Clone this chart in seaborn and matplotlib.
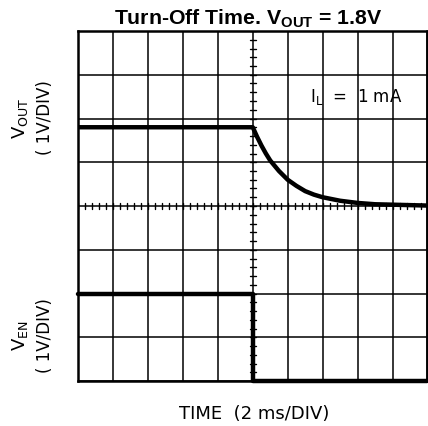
import numpy as np
import pandas as pd
import seaborn as sns
import matplotlib
matplotlib.use("Agg")
import matplotlib.pyplot as plt

# time in ms (2 ms/div, 10 divisions, t = 0 at centre)
vout_time = [-10, 0, 0.25, 0.5, 0.75, 1.0, 1.5, 2.0, 2.5, 3.0, 3.5, 4.0, 5.0, 6.0, 7.0, 8.0, 10.0]
vout_volts = [1.8, 1.8, 1.58, 1.38, 1.20, 1.04, 0.80, 0.60, 0.46, 0.34, 0.26, 0.20,
              0.12, 0.07, 0.04, 0.03, 0.01]
ven_time = [-10, 0, 0, 10]
ven_volts = [2.0, 2.0, 0.0, 0.0]

vout_ref = 4   # division where V_OUT = 0 V
ven_ref = 0    # division where V_EN = 0 V

sns.set_style("white")
plt.rcParams['font.family'] = ['DejaVu Sans']
plt.rcParams['text.color'] = 'black'
plt.rcParams['mathtext.fontset'] = 'custom'
plt.rcParams['mathtext.rm'] = 'DejaVu Sans'
plt.rcParams['mathtext.bf'] = 'Liberation Sans:bold'

fig = plt.figure(figsize=(4.28, 4.26), dpi=100)
ax = fig.add_axes([78 / 428, 45 / 426, 349.5 / 428, 350 / 426])

# grid
for x in range(-10, 11, 2):
    ax.axvline(x, color='black', lw=1.1, zorder=1)
for y in range(0, 9):
    ax.axhline(y, color='black', lw=1.1, zorder=1)

# minor ticks on centre crosshair
for x in np.arange(-10, 10.01, 0.4):
    ax.plot([x, x], [vout_ref - 0.07, vout_ref + 0.07], color='black', lw=1.0, zorder=2)
for y in np.arange(0, 8.01, 0.2):
    ax.plot([-0.17, 0.17], [y, y], color='black', lw=1.0, zorder=2)

df_out = pd.DataFrame({"t": vout_time, "v": np.array(vout_volts) + vout_ref})
df_en = pd.DataFrame({"t": ven_time, "v": np.array(ven_volts) + ven_ref})
sns.lineplot(data=df_out, x="t", y="v", sort=False, estimator=None, color='black',
             lw=3.2, ax=ax, zorder=3)
sns.lineplot(data=df_en, x="t", y="v", sort=False, estimator=None, color='black',
             lw=3.2, ax=ax, zorder=3, clip_on=False)

ax.set_xlim(-10, 10)
ax.set_ylim(0, 8)
ax.set_xticks([])
ax.set_yticks([])
ax.set_xlabel("")
ax.set_ylabel("")
for s in ax.spines.values():
    s.set_linewidth(1.8)
    s.set_color('black')

fig.text(248 / 428, 1 - 24 / 426, r"Turn-Off Time. V$_\mathbf{OUT}$ = 1.8V",
         family='Liberation Sans', ha='center', va='baseline', fontsize=15.3, fontweight='bold')
ax.text(5.94, 6.49, r"I$_\mathrm{L}$  =  1 mA", ha='center', va='center', fontsize=12)
fig.text(254 / 428, 1 - 414 / 426, "TIME  (2 ms/DIV)", ha='center', va='center', fontsize=13)
fig.text(20 / 428, 1 - 118 / 426, r"V$_\mathrm{OUT}$", rotation=90, ha='center', va='center', fontsize=13)
fig.text(45 / 428, 1 - 118 / 426, "( 1V/DIV)", rotation=90, ha='center', va='center', fontsize=12)
fig.text(20 / 428, 1 - 336 / 426, r"V$_\mathrm{EN}$", rotation=90, ha='center', va='center', fontsize=13)
fig.text(45 / 428, 1 - 336 / 426, "( 1V/DIV)", rotation=90, ha='center', va='center', fontsize=12)

fig.savefig("out.png", dpi=100)
